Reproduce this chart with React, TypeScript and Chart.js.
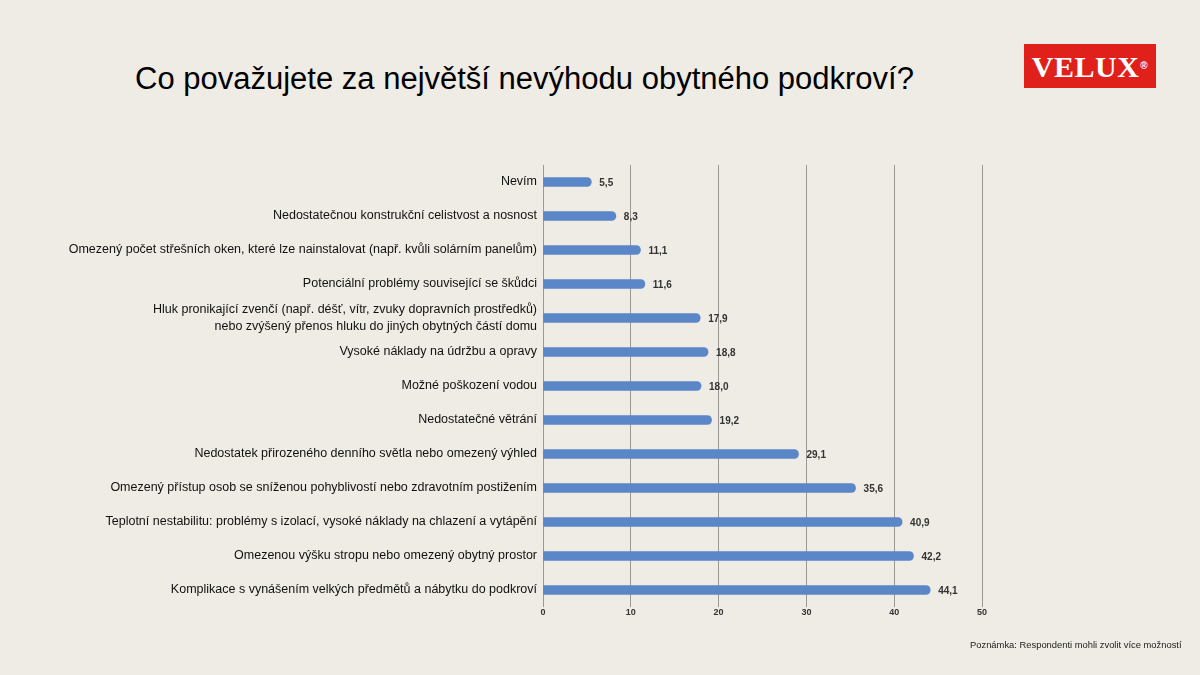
import React, { useEffect, useRef } from "react";
import { Chart, registerables } from "chart.js";

Chart.register(...registerables);

const categories: (string | string[])[] = [
  "Nevím",
  "Nedostatečnou konstrukční celistvost a nosnost",
  "Omezený počet střešních oken, které lze nainstalovat (např. kvůli solárním panelům)",
  "Potenciální problémy související se škůdci",
  [
    "Hluk pronikající zvenčí (např. déšť, vítr, zvuky dopravních prostředků)",
    "nebo zvýšený přenos hluku do jiných obytných částí domu",
  ],
  "Vysoké náklady na údržbu a opravy",
  "Možné poškození vodou",
  "Nedostatečné větrání",
  "Nedostatek přirozeného denního světla nebo omezený výhled",
  "Omezený přístup osob se sníženou pohyblivostí nebo zdravotním postižením",
  "Teplotní nestabilitu: problémy s izolací, vysoké náklady na chlazení a vytápění",
  "Omezenou výšku stropu nebo omezený obytný prostor",
  "Komplikace s vynášením velkých předmětů a nábytku do podkroví",
];

const values: number[] = [5.5, 8.3, 11.1, 11.6, 17.9, 18.8, 18.0, 19.2, 29.1, 35.6, 40.9, 42.2, 44.1];

const xTicks: number[] = [0, 10, 20, 30, 40, 50];

const TITLE = "Co považujete za největší nevýhodu obytného podkroví?";
const NOTE = "Poznámka: Respondenti mohli zvolit více možností";

const BG = "#efebe5";
const BAR = "#5b87c8";

const valueLabels = {
  id: "valueLabels",
  afterDatasetsDraw(chart: any) {
    const ctx = chart.ctx;
    const meta = chart.getDatasetMeta(0);
    ctx.save();
    ctx.font = "bold 10px 'Liberation Sans', Arial, sans-serif";
    ctx.fillStyle = "#333333";
    ctx.textAlign = "left";
    ctx.textBaseline = "middle";
    meta.data.forEach((bar: any, i: number) => {
      const v = values[i];
      ctx.fillText(v.toFixed(1).replace(".", ","), bar.x + 8, bar.y + 1);
    });
    ctx.restore();
  },
};

export default function App() {
  const canvasRef = useRef<HTMLCanvasElement | null>(null);

  useEffect(() => {
    if (!canvasRef.current) return;
    const chart = new Chart(canvasRef.current, {
      type: "bar",
      data: {
        labels: categories,
        datasets: [
          {
            data: values,
            backgroundColor: BAR,
            barThickness: 9,
            borderRadius: 5,
            borderSkipped: "start",
          },
        ],
      },
      options: {
        indexAxis: "y",
        animation: false,
        responsive: false,
        maintainAspectRatio: false,
        layout: { padding: { top: 165, right: 218, left: 0, bottom: 0 } },
        plugins: {
          legend: { display: false },
          tooltip: { enabled: false },
        },
        scales: {
          x: {
            min: 0,
            max: 50,
            afterBuildTicks: (scale: any) => {
              scale.ticks = xTicks.map((v) => ({ value: v }));
            },
            afterFit: (scale: any) => {
              scale.height = 68;
            },
            grid: { color: "#9a9794", lineWidth: 1, drawTicks: false },
            border: { display: false },
            ticks: {
              padding: 0,
              color: "#333333",
              font: { family: "'Liberation Sans', Arial, sans-serif", size: 9, weight: "bold" },
            },
          },
          y: {
            afterFit: (scale: any) => {
              scale.width = 543;
            },
            grid: { display: false, drawTicks: false },
            border: { display: false },
            ticks: {
              autoSkip: false,
              padding: 6,
              color: "#111111",
              crossAlign: "near",
              font: { family: "'Liberation Sans', Arial, sans-serif", size: 12.5, lineHeight: 1.35 },
            },
          },
        },
      },
      plugins: [valueLabels],
    });
    return () => chart.destroy();
  }, []);

  return (
    <div
      style={{
        position: "fixed",
        left: 0,
        top: 0,
        width: 1200,
        height: 675,
        background: BG,
        overflow: "hidden",
        fontFamily: "'Liberation Sans', Arial, sans-serif",
      }}
    >
      <div
        style={{
          position: "absolute",
          left: 135,
          top: 60,
          fontSize: 31,
          color: "#000",
          whiteSpace: "nowrap",
          lineHeight: "38px",
        }}
      >
        {TITLE}
      </div>
      <div
        style={{
          position: "absolute",
          left: 1024,
          top: 44,
          width: 132,
          height: 44,
          background: "#e0201b",
          color: "#fff",
          display: "flex",
          alignItems: "center",
          justifyContent: "center",
          fontFamily: "'Liberation Serif', 'DejaVu Serif', serif",
          fontWeight: "bold",
          fontSize: 30,
          letterSpacing: 0.5,
        }}
      >
        <span style={{ lineHeight: "44px", marginTop: 2 }}>VELUX</span>
        <span style={{ fontSize: 10, marginLeft: 1, marginTop: -2, fontFamily: "'Liberation Sans', Arial, sans-serif" }}>®</span>
      </div>
      <canvas ref={canvasRef} width={1200} height={675} style={{ position: "absolute", left: 0, top: 0 }} />
      <div
        style={{
          position: "absolute",
          left: 970,
          top: 639,
          fontSize: 9.4,
          color: "#222",
          whiteSpace: "nowrap",
        }}
      >
        {NOTE}
      </div>
    </div>
  );
}
